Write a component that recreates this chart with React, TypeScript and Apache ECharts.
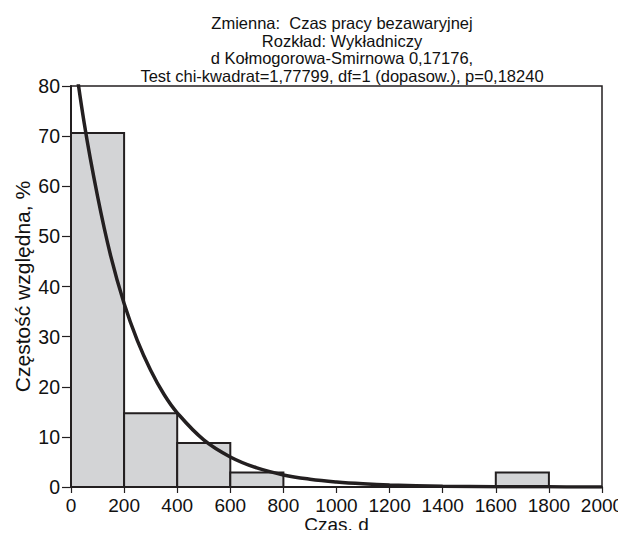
import React, { useEffect, useRef } from "react";
import * as echarts from "echarts";

const titleLines = [
  "Zmienna:  Czas pracy bezawaryjnej",
  "Rozkład: Wykładniczy",
  "d Kołmogorowa-Smirnowa 0,17176,",
  "Test chi-kwadrat=1,77799, df=1 (dopasow.), p=0,18240",
];
const xAxisName = "Czas, d";
const yAxisName = "Częstość względna, %";

// histogram bins: [start, end, relative frequency %]
const binStarts = [0, 200, 400, 600, 800, 1000, 1200, 1400, 1600, 1800];
const binEnds = [200, 400, 600, 800, 1000, 1200, 1400, 1600, 1800, 2000];
const binValues = [70.6, 14.7, 8.8, 2.9, 0, 0, 0, 0, 2.9, 0];

// fitted exponential curve
const curveX = [0, 50, 100, 150, 200, 250, 300, 350, 400, 500, 600, 700, 800, 900, 1000, 1100, 1200, 1400, 1600, 1800, 2000];
const curveY = [91, 72.5, 58, 46, 36.6, 29.2, 23.3, 18.5, 14.8, 9.4, 6.0, 3.8, 2.4, 1.55, 1.0, 0.64, 0.41, 0.17, 0.07, 0.03, 0.01];

export default function App() {
  const ref = useRef<HTMLDivElement>(null);
  useEffect(() => {
    if (!ref.current) return;
    const chart = echarts.init(ref.current, null, { renderer: "svg" });
    const dark = "#231f20";
    const font = "Liberation Sans";
    const bars = binStarts
      .map((s, i) => [s, binEnds[i], binValues[i]])
      .filter((d) => d[2] > 0);
    chart.setOption({
      animation: false,
      backgroundColor: "#ffffff",
      textStyle: { fontFamily: font },
      title: {
        text: titleLines.join("\n"),
        left: 337,
        top: 9,
        textAlign: "center",
        textStyle: {
          fontFamily: font,
          fontSize: 16.5,
          fontWeight: "normal",
          color: "#111",
          lineHeight: 17.7,
        },
      },
      grid: {
        left: 71,
        right: 24,
        top: 86,
        bottom: 51,
        show: true,
        borderColor: dark,
        borderWidth: 1.5,
        backgroundColor: "transparent",
        outerBoundsMode: "none",
        containLabel: false,
      },
      xAxis: {
        type: "value",
        min: 0,
        max: 2000,
        interval: 200,
        name: xAxisName,
        nameLocation: "middle",
        nameGap: 28,
        nameMoveOverlap: false,
        nameTextStyle: { fontFamily: font, fontSize: 19, color: "#111" },
        axisLine: { show: true, lineStyle: { color: dark, width: 2 } },
        axisTick: { show: true, inside: false, length: 6, lineStyle: { color: dark, width: 1.2 } },
        axisLabel: {
          fontFamily: font,
          fontSize: 19,
          color: "#111",
          margin: 9,
          formatter: (v: number) => String(v),
        },
        splitLine: { show: false },
      },
      yAxis: {
        type: "value",
        min: 0,
        max: 80,
        interval: 10,
        name: yAxisName,
        nameLocation: "middle",
        nameGap: 38,
        nameMoveOverlap: false,
        nameTextStyle: { fontFamily: font, fontSize: 21, color: "#111" },
        axisLine: { show: true, lineStyle: { color: dark, width: 2 } },
        axisTick: { show: true, inside: false, length: 9, lineStyle: { color: dark, width: 1.2 } },
        axisLabel: { fontFamily: font, fontSize: 19.5, color: "#111", margin: 11 },
        splitLine: { show: false },
      },
      series: [
        {
          type: "custom",
          data: bars,
          encode: { x: [0, 1], y: 2 },
          renderItem: (params: any, api: any) => {
            const p0 = api.coord([api.value(0), api.value(2)]);
            const p1 = api.coord([api.value(1), 0]);
            return {
              type: "rect",
              shape: { x: p0[0], y: p0[1], width: p1[0] - p0[0], height: p1[1] - p0[1] },
              style: { fill: "#d3d4d6", stroke: dark, lineWidth: 2 },
            };
          },
          z: 2,
        },
        {
          type: "line",
          data: curveX.map((x, i) => [x, curveY[i]]),
          smooth: 0.4,
          showSymbol: false,
          symbol: "none",
          clip: true,
          lineStyle: { color: dark, width: 3.5 },
          z: 3,
        },
      ],
    });
    return () => chart.dispose();
  }, []);
  return <div ref={ref} style={{ width: 626, height: 538, margin: -8 }} />;
}
